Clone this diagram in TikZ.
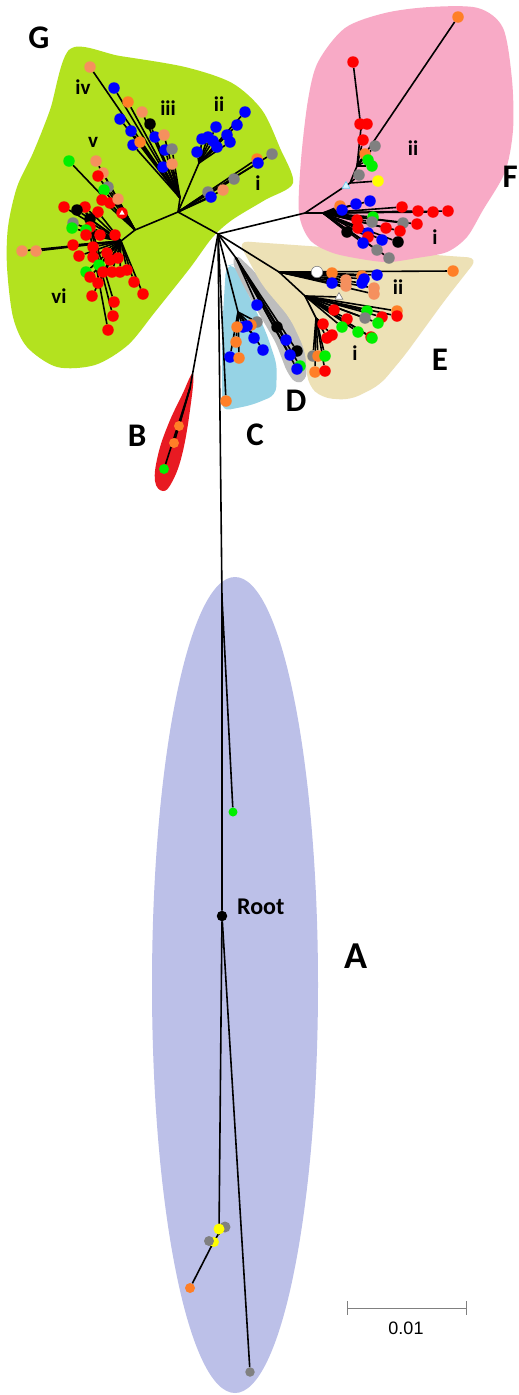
\documentclass[tikz,border=0pt]{standalone}
\usepackage{fontspec}
\newfontfamily\labf{Carlito}
\newfontfamily\arlf{Liberation Sans}
\usetikzlibrary{shapes.geometric}
\pgfdeclarelayer{regions}
\pgfdeclarelayer{edges}
\pgfsetlayers{regions,edges,main}
\definecolor{cR}{HTML}{FF0000}
\definecolor{cO}{HTML}{FF7F27}
\definecolor{cS}{HTML}{F5905E}
\definecolor{cB}{HTML}{0000FF}
\definecolor{cK}{HTML}{000000}
\definecolor{cG}{HTML}{808080}
\definecolor{cN}{HTML}{00F000}
\definecolor{cY}{HTML}{FFFF00}
\definecolor{rG}{HTML}{B3E21F}
\definecolor{rF}{HTML}{F8AAC6}
\definecolor{rE}{HTML}{EDE1B6}
\definecolor{rC}{HTML}{96D3E5}
\definecolor{rD}{HTML}{BDBDBD}
\definecolor{rB}{HTML}{E81A22}
\definecolor{rA}{HTML}{BCC0E8}
\newcommand\leafset[4][11.5pt]{%
  \foreach \lx/\ly/\lc [count=\li] in {#4} {%
    \node[dot,minimum size=#1,fill=\lc] (#2\li) at (\lx,\ly) {};
    \begin{pgfonlayer}{edges}\draw[edge] (#3) -- (#2\li);\end{pgfonlayer}
  }}
\begin{document}
\begin{tikzpicture}[x=1pt,y=-1pt,
  dot/.style={circle,inner sep=0pt,minimum size=11.5pt,draw=none},
  edge/.style={line width=1.6pt,black},
  big/.style={font=\labf\bfseries\fontsize{33}{33}\selectfont,inner sep=0pt},
  num/.style={font=\labf\bfseries\fontsize{21}{21}\selectfont,inner sep=0pt},
  tri/.style={regular polygon,regular polygon sides=3,inner sep=0pt,minimum size=9pt}]
\useasboundingbox (0,0) rectangle (519,1395);
% ---------- regions ----------
\begin{pgfonlayer}{regions}
\fill[white] (0,0) rectangle (519,1395);
\fill[rA] (235,985) ellipse [x radius=83pt, y radius=408pt];
\fill[rB] plot[smooth cycle, tension=0.7] coordinates {(193,374) (190,410) (182,455) (172,482) (163,491) (155,481) (158,455) (168,425) (182,395)};
\fill[rC, rounded corners=8pt] (226,266) -- (234,264) -- (250,298) -- (266,332) -- (277,365) -- (276,395) -- (252,405) -- (222,411) -- (222,330) -- cycle;
\fill[rD, rounded corners=6pt] (236,254) -- (255,272) -- (280,303) -- (300,335) -- (307,360) -- (306,380) -- (296,384) -- (287,372) -- (276,343) -- (258,312) -- (243,285) -- (232,262) -- cycle;
\fill[rE, rounded corners=10pt] (238,241) -- (478,258) -- (445,300) -- (405,355) -- (380,385) -- (350,400) -- (322,398) -- (308,385) -- (305,350) -- (290,318) -- (262,285) -- cycle;
\fill[rG] plot[smooth cycle, tension=0.5] coordinates {(70,49) (120,56) (185,67) (232,83) (262,110) (280,148) (293,183) (265,200) (232,220) (212,238) (190,268) (155,312) (128,345) (95,365) (57,367) (27,347) (13,317) (7,267) (8,227) (17,187) (33,153) (50,110)};
\fill[rF] plot[smooth cycle, tension=0.5] coordinates {(299,213) (301,160) (308,100) (318,62) (345,28) (385,13) (430,7) (478,8) (503,28) (512,80) (513,130) (505,172) (483,210) (467,237) (447,252) (417,258) (390,262) (367,260) (333,253) (310,240)};
\end{pgfonlayer}
% ---------- internal nodes ----------
\coordinate (hub) at (218,234);
\coordinate (gR) at (178,212);
\coordinate (gA) at (180,198);
\coordinate (gII) at (199,163);
\coordinate (gV) at (135,230);
\coordinate (gVI) at (121,241);
\coordinate (gvi2) at (116,262);
\coordinate (fN) at (305,213);
\coordinate (fI) at (323,213);
\coordinate (fII1) at (350,183);
\coordinate (fII2) at (357,166);
\coordinate (fII3) at (361,128);
\coordinate (eN) at (279,272);
\coordinate (eI) at (305,296);
\coordinate (eI2) at (316,318);
\coordinate (cN) at (238,312);
\coordinate (dN) at (236,258);
\coordinate (bN) at (190,388);
\coordinate (tN) at (222,598);
\coordinate (aN1) at (219,1233);
\coordinate (aN2) at (212,1245);
\node[dot,fill=black,minimum size=10.5pt] (root) at (222,916) {};
\begin{pgfonlayer}{edges}
\draw[edge] (hub) -- (gR);
\draw[edge] (gR) -- (gA);
\draw[edge] (gR) -- (gII);
\draw[edge] (gR) -- (gV) -- (gVI) -- (gvi2);
\draw[edge] (hub) -- (fN) -- (fI);
\draw[edge] (fN) -- (fII1) -- (fII2) -- (fII3);
\draw[edge] (hub) -- (eN) -- (eI) -- (eI2);
\draw[edge] (hub) -- (cN);
\draw[edge] (hub) -- (dN);
\draw[edge] (hub) -- (bN);
\draw[edge] (hub) -- (tN) -- (root);
\draw[edge] (root) -- (aN1) -- (aN2);
\end{pgfonlayer}
% ---------- clade G ----------
\leafset{gi}{gR}{208/192/cG, 211/197/cB, 223/190/cS, 234/179/cG, 257/159/cO, 258/163/cB, 272/154/cG}
\leafset{gii}{gII}{197/152/cB, 202/139/cB, 208/137/cB, 213/141/cB, 217/147/cB, 216/127/cB, 227/135/cB, 230/142/cB, 237/125/cB, 245/112/cB}
\leafset{giii}{gA}{90/67/cS, 114/88/cB, 128/102/cO, 142/112/cS, 150/124/cK, 120/119/cB, 131/131/cB, 133/145/cB, 140/142/cO, 155/137/cB, 164/135/cS, 165/150/cB, 172/149/cG, 163/167/cB, 172/164/cS}
\leafset{gv}{gV}{69/161/cN, 96/161/cS, 103/173/cS, 98/176/cR, 108/187/cG, 104/190/cN, 102/200/cR, 110/203/cR, 118/199/cS, 122/213/cR}
\node[tri,fill=white,minimum size=6pt] (gvtri) at (122,213) {};
\leafset{gvi}{gVI}{64/207/cR, 85/207/cR, 77/210/cK, 98/212/cR, 90/219/cK, 73/223/cG, 72/228/cN, 90/227/cR, 86/230/cN, 86/235/cR, 100/235/cR, 115/235/cR, 73/245/cR, 93/247/cR, 22/251/cS, 36/251/cS, 79/256/cR, 93/257/cR, 107/253/cR, 110/260/cR, 118/258/cR, 99/265/cN, 86/272/cN, 90/277/cR, 103/272/cR, 112/272/cR, 120/272/cR, 127/270/cR, 134/282/cR, 143/294/cR, 98/283/cR, 92/296/cR}
\leafset{gvic}{gvi2}{114/302/cR, 113/316/cR, 108/330/cR}
% ---------- clade F ----------
\node[tri,draw=cyan!60,fill=cyan!15,line width=0.6pt] (ftri) at (346,186) {};
\leafset{fiia}{fII1}{378/181/cY, 359/175/cG}
\leafset{fiib}{fII2}{365/154/cO, 368/160/cN, 372/166/cN, 375/146/cG, 363/140/cR, 458/17/cO}
\leafset{fiic}{fII3}{360/124/cR, 367/124/cR, 353/62/cR}
\leafset{fi}{fI}{340/206/cO, 342/210/cB, 356/204/cB, 370/201/cB, 402/207/cR, 418/211/cR, 433/212/cR, 448/211/cR, 347/232/cK, 357/220/cR, 358/228/cR, 373/217/cN, 372/222/cG, 386/228/cR, 403/223/cG, 417/224/cR, 400/231/cR, 368/233/cB, 368/237/cR, 363/243/cB, 382/240/cB, 398/242/cK, 377/250/cG, 389/258/cG}
% ---------- clade E ----------
\node[dot,fill=white,draw=gray,line width=0.6pt] (ewc) at (317,272) {};
\begin{pgfonlayer}{edges}\draw[edge] (eN) -- (ewc);\end{pgfonlayer}
\leafset{eii}{eN}{332/273/cO, 332/283/cB, 346/280/cS, 346/286/cS, 362/276/cO, 362/283/cB, 364/279/cB, 377/275/cB, 374/288/cS, 374/294/cS, 453/271/cO}
\node[tri,draw=gray,fill=white,line width=0.6pt] (etri) at (339,297) {};
\begin{pgfonlayer}{edges}\draw[edge] (eI) -- (etri);\end{pgfonlayer}
\leafset{ei}{eI}{334/310/cR, 347/319/cR, 367/311/cN, 397/311/cO, 397/316/cR, 382/317/cR, 365/318/cG, 378/323/cN, 342/327/cN, 358/332/cN, 371/337/cR, 372/338/cN}
\leafset{eiz}{eI2}{323/324/cR, 327/338/cR, 332/335/cR, 313/356/cG, 318/356/cO, 325/356/cN, 315/372/cO, 325/371/cR}
% ---------- clades C, D, B ----------
\leafset{c}{cN}{257/322/cG, 251/325/cO, 247/326/cB, 243/327/cB, 237/327/cO, 236/342/cO, 254/338/cB, 263/350/cB, 230/357/cB, 239/358/cO}
\leafset{cb}{hub}{226/401/cO}
\leafset{d}{dN}{257/305/cB, 277/327/cK, 286/340/cB, 297/351/cK, 290/355/cB, 300/366/cN, 297/369/cB}
\leafset[10pt]{b}{bN}{179/426/cO, 174/443/cO, 164/469/cN}
% ---------- clade A ----------
\leafset[9pt]{at}{tN}{233/812/cN}
\leafset[11pt]{aa}{aN1}{225/1227/cG, 219/1229/cY}
\leafset[10pt]{ab}{aN2}{214/1242/cY, 209/1241/cG, 190/1288/cO}
\leafset[9.5pt]{ac}{root}{250/1372/cG}
% ---------- labels ----------
\node[big] (lG) at (39,38) {G};
\node[big,anchor=east] (lF) at (518,177) {F};
\node[big] (lE) at (440,360) {E};
\node[big] (lD) at (296,401) {D};
\node[big] (lC) at (255,435) {C};
\node[big] (lB) at (137,436) {B};
\node[big,font=\labf\bfseries\fontsize{38}{38}\selectfont] (lA) at (356,956) {A};
\node[font=\labf\bfseries\fontsize{24}{24}\selectfont,inner sep=0pt,anchor=west] (lroot) at (237,907) {Root};
\node[num] (giv) at (83,87) {iv};
\node[num] (giiil) at (168,108) {iii};
\node[num] (giil) at (219,104) {ii};
\node[num] (gil) at (258,183) {i};
\node[num] (gvl) at (93,142) {v};
\node[num] (gvil) at (59,296) {vi};
\node[num] (fiil) at (413,148) {ii};
\node[num] (fil) at (435,237) {i};
\node[num] (eiil) at (398,287) {ii};
\node[num] (eil) at (355,353) {i};
% ---------- scale bar ----------
\coordinate (s1) at (347,1308);
\coordinate (s2) at (466,1308);
\draw[gray,line width=1pt] (s1) -- (s2);
\draw[gray,line width=1pt] ([yshift=7pt]s1) -- ([yshift=-7pt]s1);
\draw[gray,line width=1pt] ([yshift=7pt]s2) -- ([yshift=-7pt]s2);
\node[font=\arlf\fontsize{18}{18}\selectfont,inner sep=0pt] (sl) at (406,1328) {0.01};
\end{tikzpicture}
\end{document}
